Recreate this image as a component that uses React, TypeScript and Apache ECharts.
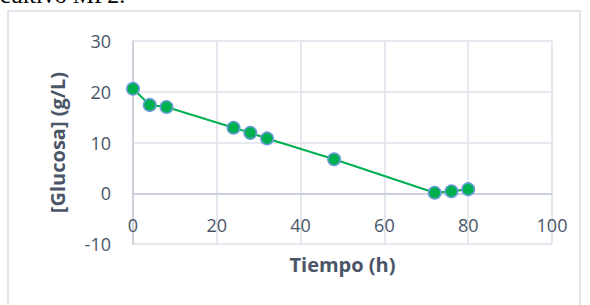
import React, { useEffect, useRef } from "react";
import * as echarts from "echarts";

const hours = [0, 4, 8, 24, 28, 32, 48, 72, 76, 80];
const glucose = [20.6, 17.4, 17.0, 12.9, 11.9, 10.8, 6.7, 0.1, 0.4, 0.8];
const xTitle = "Tiempo (h)";
const yTitle = "[Glucosa] (g/L)";
const captionText = "cultivo MF2.";

export default function App() {
  const ref = useRef<HTMLDivElement>(null);
  useEffect(() => {
    if (!ref.current) return;
    const chart = echarts.init(ref.current, undefined, { renderer: "svg" });
    const labelColor = "#4A5568";
    const font = "'Open Sans', 'Noto Sans', sans-serif";
    chart.setOption({
      animation: false,
      grid: { left: 133, right: 38, top: 41, bottom: 61, containLabel: false, outerBoundsMode: "none" },
      xAxis: {
        type: "value",
        min: 0,
        max: 100,
        interval: 20,
        axisLine: { show: true, onZero: true, lineStyle: { color: "#C3CAD6", width: 1.5 } },
        axisTick: { show: false },
        axisLabel: { color: labelColor, fontSize: 18, fontFamily: font, margin: -28 },
        splitLine: { show: true, lineStyle: { color: "#DDE1E8", width: 1.5 } },
        name: xTitle,
        nameLocation: "middle",
        nameGap: 10,
        nameTextStyle: { color: labelColor, fontSize: 20, fontWeight: "bold", fontFamily: font },
      },
      yAxis: {
        type: "value",
        min: -10,
        max: 30,
        interval: 10,
        axisLine: { show: true, lineStyle: { color: "#C3CAD6", width: 1.5 } },
        axisTick: { show: false },
        axisLabel: { color: labelColor, fontSize: 18, fontFamily: font, margin: 22 },
        splitLine: { show: true, lineStyle: { color: "#DDE1E8", width: 1.5 } },
        name: yTitle,
        nameLocation: "middle",
        nameGap: 66,
        nameTextStyle: { color: labelColor, fontSize: 20, fontWeight: "bold", fontFamily: font },
      },
      graphic: [
        {
          type: "rect",
          shape: { x: 8, y: 11, width: 572, height: 300 },
          style: { fill: "none", stroke: "#E0E4EB", lineWidth: 2 },
          silent: true,
          z: -10,
        },
        {
          type: "text",
          x: 0,
          y: 7,
          style: {
            text: captionText,
            fill: "#000",
            font: "24px 'Liberation Serif', 'DejaVu Serif', serif",
            textVerticalAlign: "bottom",
          },
        },
      ],
      series: [
        {
          type: "line",
          data: hours.map((h, i) => [h, glucose[i]]),
          symbol: "circle",
          symbolSize: 12.5,
          lineStyle: { color: "#00B050", width: 2 },
          itemStyle: { color: "#00B050", borderColor: "#6A9BD8", borderWidth: 1.5 },
        },
      ],
    });
    return () => chart.dispose();
  }, []);
  return (
    <div style={{ position: "absolute", left: 0, top: 0, width: 590, height: 305 }}>
      <div ref={ref} style={{ width: 590, height: 305 }} />
    </div>
  );
}
